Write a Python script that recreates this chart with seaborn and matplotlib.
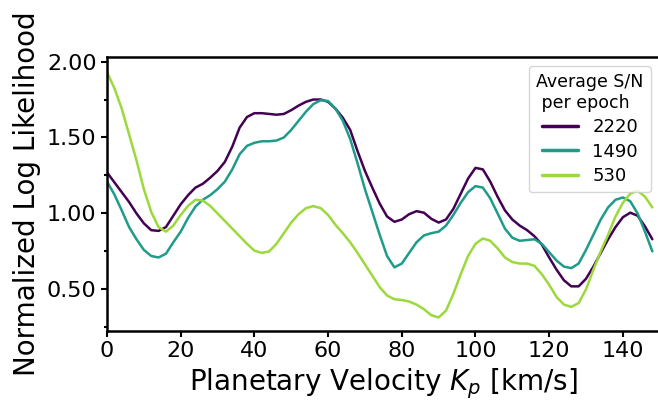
import numpy as np
import pandas as pd
import matplotlib
matplotlib.use("Agg")
import matplotlib.pyplot as plt
from matplotlib.ticker import MultipleLocator, FormatStrFormatter
import seaborn as sns

# planetary velocity grid (km/s)
kp = list(range(0, 150, 2))

# normalized log likelihood, one list per S/N level
ll_2220 = [1.27, 1.205, 1.14, 1.075, 1.00, 0.935, 0.89, 0.885, 0.91, 0.985,
           1.06, 1.12, 1.17, 1.195, 1.235, 1.28, 1.34, 1.44, 1.565, 1.635,
           1.66, 1.66, 1.655, 1.65, 1.655, 1.68, 1.71, 1.735, 1.75, 1.75,
           1.735, 1.69, 1.63, 1.55, 1.41, 1.28, 1.17, 1.065, 0.98, 0.945,
           0.96, 0.995, 1.015, 1.005, 0.965, 0.94, 0.96, 1.03, 1.13, 1.23,
           1.30, 1.29, 1.21, 1.11, 1.02, 0.96, 0.92, 0.89, 0.85, 0.795,
           0.71, 0.63, 0.56, 0.52, 0.52, 0.57, 0.65, 0.74, 0.83, 0.91,
           0.975, 1.005, 0.985, 0.915, 0.83]
ll_1490 = [1.21, 1.125, 1.02, 0.91, 0.83, 0.76, 0.72, 0.71, 0.735, 0.81,
           0.88, 0.97, 1.045, 1.09, 1.12, 1.16, 1.21, 1.29, 1.39, 1.445,
           1.465, 1.475, 1.475, 1.48, 1.50, 1.55, 1.61, 1.67, 1.72, 1.745,
           1.74, 1.69, 1.61, 1.49, 1.33, 1.16, 1.01, 0.86, 0.72, 0.645,
           0.67, 0.74, 0.81, 0.855, 0.87, 0.88, 0.92, 0.99, 1.07, 1.14,
           1.18, 1.17, 1.10, 1.00, 0.90, 0.84, 0.82, 0.825, 0.83, 0.80,
           0.745, 0.69, 0.65, 0.64, 0.67, 0.76, 0.86, 0.96, 1.04, 1.09,
           1.105, 1.08, 1.00, 0.88, 0.75]
ll_530 = [1.93, 1.825, 1.69, 1.52, 1.35, 1.16, 1.01, 0.91, 0.88, 0.92,
          0.99, 1.05, 1.09, 1.085, 1.05, 1.00, 0.95, 0.90, 0.85, 0.80,
          0.755, 0.74, 0.75, 0.80, 0.87, 0.94, 0.995, 1.035, 1.048, 1.035,
          0.99, 0.925, 0.87, 0.81, 0.74, 0.665, 0.59, 0.515, 0.46, 0.435,
          0.43, 0.42, 0.40, 0.37, 0.33, 0.315, 0.36, 0.47, 0.60, 0.72,
          0.80, 0.835, 0.82, 0.77, 0.71, 0.68, 0.67, 0.67, 0.655, 0.60,
          0.53, 0.45, 0.40, 0.385, 0.41, 0.50, 0.63, 0.75, 0.86, 0.98,
          1.07, 1.13, 1.15, 1.11, 1.04]

snr_labels = ["2220", "1490", "530"]

df = pd.concat([
    pd.DataFrame({"Kp": kp, "LL": ll_2220, "snr": "2220"}),
    pd.DataFrame({"Kp": kp, "LL": ll_1490, "snr": "1490"}),
    pd.DataFrame({"Kp": kp, "LL": ll_530, "snr": "530"}),
])

cmap = plt.get_cmap("viridis")
palette = {"2220": cmap(0.0), "1490": cmap(0.55), "530": cmap(0.85)}

sns.set_style("ticks")
plt.rcParams["font.family"] = ["DejaVu Sans"]
plt.rcParams["text.color"] = "black"
plt.rcParams["axes.labelcolor"] = "black"
plt.rcParams["xtick.color"] = "black"
plt.rcParams["ytick.color"] = "black"

fig = plt.figure(figsize=(6.58, 4.03), dpi=100)
ax = fig.add_axes([0.1626, 0.1794, 0.8400, 0.6792])

sns.lineplot(data=df, x="Kp", y="LL", hue="snr", hue_order=snr_labels,
             palette=palette, linewidth=1.8, ax=ax)

ax.set_xlim(0, 150)
ax.set_ylim(0.228, 2.03)
ax.xaxis.set_major_locator(MultipleLocator(20))
ax.yaxis.set_major_locator(MultipleLocator(0.5))
ax.yaxis.set_minor_locator(MultipleLocator(0.25))
ax.yaxis.set_major_formatter(FormatStrFormatter("%.2f"))

for side in ["left", "bottom", "top", "right"]:
    ax.spines[side].set_visible(True)
    ax.spines[side].set_linewidth(1.8)
    ax.spines[side].set_color("black")

ax.tick_params(axis="both", which="major", labelsize=16, length=4, width=1.5,
               color="black", labelcolor="black")
ax.tick_params(axis="y", which="minor", length=2.5, width=1.5, color="black")

ax.set_xlabel("Planetary Velocity $K_p$ [km/s]", fontsize=20, color="black")
ax.set_ylabel("Normalized Log Likelihood", fontsize=20, color="black")

leg = ax.legend(title="Average S/N\n per epoch", loc="upper right",
                fontsize=13, title_fontsize=12.5, labelspacing=0.35)
for line in leg.get_lines():
    line.set_linewidth(2.5)
leg.get_title().set_color("black")
for t in leg.get_texts():
    t.set_color("black")

fig.savefig("out.png", dpi=100)
